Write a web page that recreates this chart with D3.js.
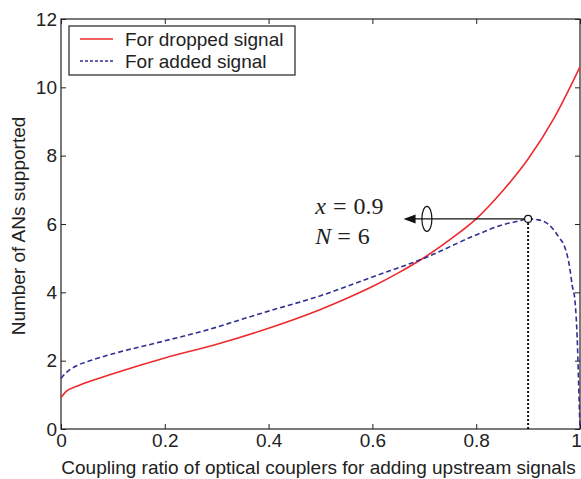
<!DOCTYPE html>
<html>
<head>
<meta charset="utf-8">
<script src="https://cdn.jsdelivr.net/npm/d3@7"></script>
<style>
  body { margin: 0; background: #fff; }
  svg { display: block; font-family: "Liberation Sans", Arial, sans-serif; }
</style>
</head>
<body>
<script>
'use strict';

// x values: coupling ratio
const ratioDropped = [0, 0.01, 0.03, 0.06, 0.1, 0.2, 0.3, 0.4, 0.5, 0.55, 0.6, 0.65, 0.7, 0.75, 0.8, 0.85, 0.9, 0.95, 1.0];
const droppedN = [0.92, 1.1, 1.25, 1.42, 1.62, 2.08, 2.48, 2.95, 3.5, 3.82, 4.17, 4.57, 5.02, 5.55, 6.15, 6.95, 7.9, 9.1, 10.6];

const ratioAdded = [0, 0.01, 0.03, 0.06, 0.1, 0.2, 0.3, 0.35, 0.4, 0.5, 0.6, 0.7, 0.8, 0.85, 0.88, 0.9, 0.92, 0.94, 0.96, 0.97, 0.98, 0.985, 0.99, 0.995, 0.998, 1.0];
const addedN = [1.48, 1.65, 1.85, 2.02, 2.2, 2.58, 2.98, 3.22, 3.45, 3.9, 4.45, 5.0, 5.68, 5.97, 6.08, 6.15, 6.12, 5.98, 5.6, 5.35, 4.74, 4.2, 3.8, 2.5, 1.0, 0];

const xTicks = [0, 0.2, 0.4, 0.6, 0.8, 1];
const yTicks = [0, 2, 4, 6, 8, 10, 12];
const legendLabels = ["For dropped signal", "For added signal"];
const optimum = { x: 0.9, n: 6.15 };

const W = 581, H = 479;
const m = { left: 61, top: 19, right: 1, bottom: 50 };
const iw = W - m.left - m.right, ih = H - m.top - m.bottom;

const svg = d3.select("body").append("svg").attr("width", W).attr("height", H);
const g = svg.append("g").attr("transform", `translate(${m.left},${m.top})`);

const x = d3.scaleLinear().domain([0, 1]).range([0, iw]);
const y = d3.scaleLinear().domain([0, 12]).range([ih, 0]);

// axes with inward ticks (matlab style)
function styleAxis(sel, showText) {
    sel.select(".domain").remove();
    sel.selectAll("line").attr("stroke", "#222");
    sel.selectAll("text").attr("font-size", 19).attr("fill", "#222");
    if (!showText) sel.selectAll("text").remove();
}
g.append("g").attr("transform", `translate(0,${ih})`)
    .call(d3.axisBottom(x).tickValues(xTicks).tickFormat(d3.format("")).tickSizeInner(-5).tickSizeOuter(0).tickPadding(5))
    .call(s => styleAxis(s, true))
    .selectAll("text").filter(d => d === 1).attr("dx", -4);
g.append("g")
    .call(d3.axisTop(x).tickValues(xTicks).tickSizeInner(-5).tickSizeOuter(0))
    .call(s => styleAxis(s, false));
g.append("g")
    .call(d3.axisLeft(y).tickValues(yTicks).tickSizeInner(-5).tickSizeOuter(0).tickPadding(4))
    .call(s => styleAxis(s, true));
g.append("g").attr("transform", `translate(${iw},0)`)
    .call(d3.axisRight(y).tickValues(yTicks).tickSizeInner(-5).tickSizeOuter(0))
    .call(s => styleAxis(s, false));

g.append("rect").attr("width", iw).attr("height", ih)
    .attr("fill", "none").attr("stroke", "#222").attr("stroke-width", 1.2);

// curves
const line = d3.line().x(d => x(d[0])).y(d => y(d[1])).curve(d3.curveMonotoneX);
g.append("path").datum(d3.zip(ratioDropped, droppedN))
    .attr("d", line).attr("fill", "none").attr("stroke", "#ee2a2e").attr("stroke-width", 1.6);
g.append("path").datum(d3.zip(ratioAdded, addedN))
    .attr("d", line).attr("fill", "none").attr("stroke", "#2e3192").attr("stroke-width", 1.6)
    .attr("stroke-dasharray", "5,3");

// optimum annotation
const ox = x(optimum.x), oy = y(optimum.n);
g.append("line").attr("x1", ox).attr("x2", ox).attr("y1", oy + 4).attr("y2", ih)
    .attr("stroke", "#111").attr("stroke-width", 2).attr("stroke-dasharray", "2,2");
const tipX = x(0.66);
g.append("line").attr("x1", ox - 4).attr("x2", tipX + 10).attr("y1", oy).attr("y2", oy)
    .attr("stroke", "#111").attr("stroke-width", 1.2);
g.append("path")
    .attr("d", `M${tipX},${oy}L${tipX + 12},${oy - 4.5}L${tipX + 12},${oy + 4.5}Z`)
    .attr("fill", "#111");
g.append("ellipse").attr("cx", x(0.705)).attr("cy", oy).attr("rx", 5).attr("ry", 12.5)
    .attr("fill", "none").attr("stroke", "#111").attr("stroke-width", 1.2);
g.append("circle").attr("cx", ox).attr("cy", oy).attr("r", 3.5)
    .attr("fill", "#fff").attr("stroke", "#111").attr("stroke-width", 1.2);

const ann = g.append("g").attr("font-family", "'Liberation Serif', 'Times New Roman', serif")
    .attr("font-size", 24).attr("fill", "#222");
const t1 = ann.append("text").attr("x", x(0.49)).attr("y", oy - 5);
t1.append("tspan").attr("font-style", "italic").text("x");
t1.append("tspan").attr("dx", 7).text("=");
t1.append("tspan").attr("dx", 7).text("0.9");
const t2 = ann.append("text").attr("x", x(0.49)).attr("y", oy + 25);
t2.append("tspan").attr("font-style", "italic").text("N");
t2.append("tspan").attr("dx", 6).text("=");
t2.append("tspan").attr("dx", 7).text("6");

// legend
const leg = g.append("g").attr("transform", "translate(8,7)");
leg.append("rect").attr("width", 226).attr("height", 49)
    .attr("fill", "#fff").attr("stroke", "#222").attr("stroke-width", 1.2);
const legStyles = [
    { color: "#ee2a2e", dash: null },
    { color: "#2e3192", dash: "3,2" }
];
legendLabels.forEach((lab, i) => {
    const ly = 13 + i * 22;
    leg.append("line").attr("x1", 11).attr("x2", 44).attr("y1", ly).attr("y2", ly)
        .attr("stroke", legStyles[i].color).attr("stroke-width", 1.4)
        .attr("stroke-dasharray", legStyles[i].dash);
    leg.append("text").attr("x", 56).attr("y", ly + 7).attr("font-size", 19).attr("fill", "#222").text(lab);
});

// axis titles
svg.append("text").attr("x", m.left + iw / 2 - 2).attr("y", 474).attr("text-anchor", "middle")
    .attr("font-size", 19).attr("fill", "#222")
    .text("Coupling ratio of optical couplers for adding upstream signals");
svg.append("text").attr("transform", `translate(25,${m.top + ih / 2 + 2}) rotate(-90)`)
    .attr("text-anchor", "middle").attr("font-size", 19).attr("fill", "#222")
    .text("Number of ANs supported");
</script>
</body>
</html>
